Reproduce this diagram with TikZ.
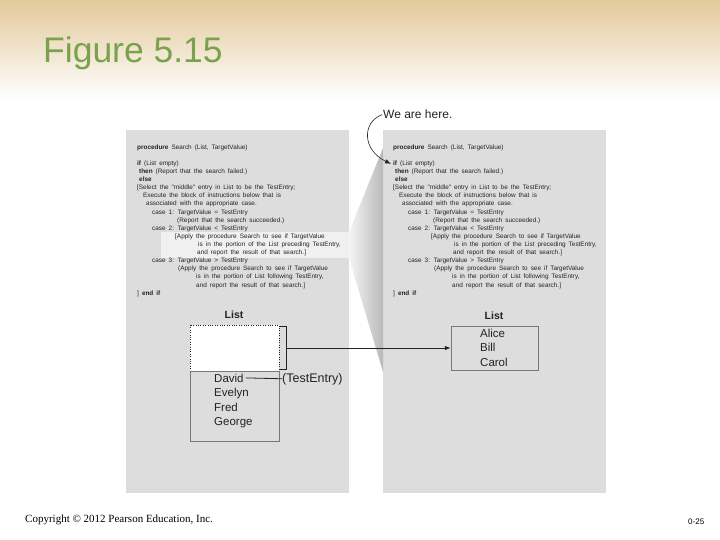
\documentclass[tikz,border=0pt]{standalone}
\usepackage{fontspec}
\setmainfont{Liberation Sans}
\newfontfamily\serifcopy{Liberation Serif}
\newfontfamily\codefont[WordSpace=1.7]{Liberation Sans}
\usetikzlibrary{arrows.meta}
\definecolor{tanhead}{RGB}{227,201,155}
\definecolor{titlegreen}{RGB}{122,162,76}
\definecolor{panelgray}{RGB}{221,221,221}
\definecolor{stripgray}{RGB}{240,240,240}
\definecolor{ink}{RGB}{35,35,35}
\definecolor{boxline}{RGB}{120,120,120}
\tikzset{
  code/.style={anchor=base west, inner sep=0pt, text=ink, font=\codefont\fontsize{6.4}{7.5}\selectfont},
  listname/.style={anchor=base west, inner sep=0pt, text=ink, font=\fontsize{11.5}{13}\selectfont},
  listtitle/.style={anchor=base, inner sep=0pt, text=ink, font=\fontsize{10.5}{12}\selectfont\bfseries},
  arrowline/.style={draw=ink, line width=0.8pt, -{Latex[length=6pt,width=4.5pt]}}
}
\newcommand\mycodeblock[2]{%
  \node[code] (#1l1) at (#2+137,149.5) {\textbf{procedure} Search (List, TargetValue)};
  \node[code] (#1l2) at (#2+137,165.5) {\textbf{if} (List empty)};
  \node[code] (#1l3) at (#2+139,173.6) {\textbf{then} (Report that the search failed.)};
  \node[code] (#1l4) at (#2+139,181.7) {\textbf{else}};
  \node[code] (#1l5) at (#2+137,189.8) {[Select the "middle" entry in List to be the TestEntry;};
  \node[code] (#1l6) at (#2+143,197.9) {Execute the block of instructions below that is};
  \node[code] (#1l7) at (#2+146,206.0) {associated with the appropriate case.};
  \node[code] (#1l8) at (#2+152,214.1) {case 1: TargetValue = TestEntry};
  \node[code] (#1l9) at (#2+177,222.2) {(Report that the search succeeded.)};
  \node[code] (#1l10) at (#2+152,230.3) {case 2: TargetValue < TestEntry};
  \node[code] (#1l11) at (#2+175,238.4) {[Apply the procedure Search to see if TargetValue};
  \node[code] (#1l12) at (#2+198,246.5) {is in the portion of the List preceding TestEntry,};
  \node[code] (#1l13) at (#2+197,254.6) {and report the result of that search.]};
  \node[code] (#1l14) at (#2+152,262.7) {case 3: TargetValue > TestEntry};
  \node[code] (#1l15) at (#2+178,270.8) {(Apply the procedure Search to see if TargetValue};
  \node[code] (#1l16) at (#2+196,278.9) {is in the portion of List following TestEntry,};
  \node[code] (#1l17) at (#2+196,287.0) {and report the result of that search.]};
  \node[code] (#1l18) at (#2+137,295.1) {] \textbf{end if}};
}
\begin{document}
\begin{tikzpicture}[x=1pt,y=-1pt]
\useasboundingbox (0,0) rectangle (720,540);
\fill[white] (0,0) rectangle (720,540);
\shade[top color=tanhead, bottom color=white] (0,0) rectangle (720,100);
% title
\node[anchor=base west, inner sep=0pt, text=titlegreen, font=\fontsize{35.5}{40}\selectfont] (title) at (43,63) {Figure 5.15};
% panels
\fill[panelgray] (126,130) rectangle (349,493);
\fill[panelgray] (383,130) rectangle (606,493);
\fill[stripgray] (161,232) rectangle (349,258);
% wedge
\shade[left color=gray!8, right color=gray!55] (349,232) -- (383,148) -- (383,372) -- (349,258) -- cycle;
% code
\mycodeblock{L}{0}
\mycodeblock{R}{256}
% left list
\node[listtitle] (ltitle) at (234,318) {List};
\filldraw[fill=white, draw=ink, dotted] (190,325) rectangle (279,371);
\draw[boxline] (190,371) rectangle (279,441);
\node[listname] (david) at (214,382) {David};
\node[listname] (evelyn) at (214,396.5) {Evelyn};
\node[listname] (fred) at (214,411) {Fred};
\node[listname] (george) at (214,425.5) {George};
\node[anchor=base west, inner sep=0pt, text=ink, font=\fontsize{12.5}{14}\selectfont] (testentry) at (282,382) {(TestEntry)};
\draw[ink, line width=0.8pt] ([xshift=2pt]david.east) -- (testentry.west);
% bracket
\draw[ink, line width=0.8pt] (280,326) -- (286,326) -- (286,369) -- (280,369);
\coordinate (brk) at (286,348);
% right list
\node[listtitle] (rtitle) at (494,319) {List};
\node[draw=boxline, minimum width=87pt, minimum height=44pt, inner sep=0pt] (rbox) at (494.5,348) {};
\node[listname] (alice) at (480,337) {Alice};
\node[listname] (bill) at (480,351.5) {Bill};
\node[listname] (carol) at (480,366) {Carol};
\draw[arrowline] (brk) -- (rbox.west);
% we are here
\node[anchor=base west, inner sep=0pt, text=ink, font=\fontsize{12}{14}\selectfont] (here) at (383,119) {We are here.};
\draw[arrowline, line width=0.6pt] ([xshift=-1pt]here.west) .. controls (362,122) and (362,150) .. ([xshift=-2pt]Rl2.west);
% footer
\node[anchor=base west, inner sep=0pt, text=black, font=\serifcopy\fontsize{11}{13}\selectfont] (copy) at (25,522) {Copyright \textcopyright{} 2012 Pearson Education, Inc.};
\node[anchor=base west, inner sep=0pt, text=black, font=\fontsize{8}{10}\selectfont] (pagenum) at (688,524) {0-25};
\end{tikzpicture}
\end{document}
